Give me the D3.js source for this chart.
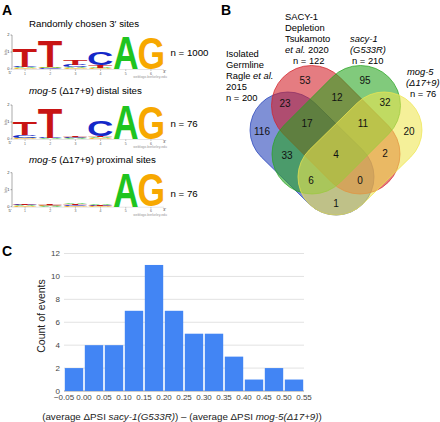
<!DOCTYPE html>
<html>
<head>
<meta charset="utf-8">
<script src="https://cdn.jsdelivr.net/npm/d3@7"></script>
<style>
  body { margin: 0; background: #fff; }
  svg text { font-family: "Liberation Sans", Arial, Helvetica, sans-serif; }
</style>
</head>
<body>
<div id="fig"></div>
<script>
// ---- data ----
// sequence logos: bits per letter, positions 1..6
const logoRandom = [
  { A: 0.05, C: 0.05, G: 0.04, T: 1.05 },
  { A: 0.04, C: 0.03, G: 0.03, T: 1.52 },
  { A: 0.05, C: 0.13, G: 0.04, T: 0.30 },
  { A: 0.04, C: 0.78, G: 0.03, T: 0.18 },
  { A: 1.88, C: 0, G: 0, T: 0 },
  { A: 0, C: 0, G: 1.82, T: 0 }
];
const logoDistal = [
  { A: 0.05, C: 0.15, G: 0.03, T: 0.78 },
  { A: 0.03, C: 0.03, G: 0, T: 1.72 },
  { A: 0.03, C: 0.04, G: 0.03, T: 0.08 },
  { A: 0.06, C: 0.95, G: 0.03, T: 0.08 },
  { A: 1.98, C: 0, G: 0, T: 0 },
  { A: 0, C: 0, G: 1.9, T: 0 }
];
const logoProximal = [
  { A: 0.04, C: 0.05, G: 0.03, T: 0.08 },
  { A: 0.03, C: 0.03, G: 0.03, T: 0.04 },
  { A: 0.10, C: 0.06, G: 0.04, T: 0.08 },
  { A: 0.07, C: 0.04, G: 0.03, T: 0.05 },
  { A: 2.0, C: 0, G: 0, T: 0 },
  { A: 0, C: 0, G: 1.9, T: 0 }
];
const logoTitles = ["Randomly chosen 3\u2032 sites", "distal sites", "proximal sites"];
const logoN = [1000, 76, 76];

// venn: set sizes and region counts
const vennSetN = [200, 122, 210, 76];
const vennCounts = [116, 53, 95, 20, 23, 12, 32, 17, 11, 33, 4, 2, 6, 0, 1];

// histogram
const binEdges = [-0.05, 0.00, 0.05, 0.10, 0.15, 0.20, 0.25, 0.30, 0.35, 0.40, 0.45, 0.50, 0.55];
const binCounts = [2, 4, 4, 7, 11, 7, 5, 5, 3, 1, 2, 1];
const yTicks = [0, 2, 4, 6, 8, 10, 12];

// ---- setup ----
let width = 440, height = 422;
let svg = d3.select("#fig").append("svg")
  .attr("width", width)
  .attr("height", height);

// panel letters
svg.selectAll(".panel")
  .data([["A", 2, 15], ["B", 221, 15], ["C", 2, 256]])
  .enter().append("text")
  .attr("x", d => d[1]).attr("y", d => d[2])
  .style("font-size", "14px").style("font-weight", "bold")
  .text(d => d[0]);

// ---------- A: sequence logos ----------
let letterColor = { A: "#1fc41f", C: "#1428c8", G: "#f7a800", T: "#c81414" };
let ctx = document.createElement("canvas").getContext("2d");
ctx.font = "bold 100px 'Liberation Sans'";
let glyph = {};
["A", "C", "G", "T"].forEach(function(l) {
  let m = ctx.measureText(l);
  glyph[l] = { left: m.actualBoundingBoxLeft, right: m.actualBoundingBoxRight,
               asc: m.actualBoundingBoxAscent, desc: m.actualBoundingBoxDescent };
});

let logoX = d3.scaleBand().domain(d3.range(6)).range([13, 163]).paddingInner(0.04);
let pxPerBit = 17;
let logoBase = [69, 139, 206.7];

function drawLogo(data, base) {
  let g = svg.append("g");
  let y = d3.scaleLinear().domain([0, 2]).range([base, base - 2 * pxPerBit]);
  // axis
  g.append("line").attr("x1", 12).attr("x2", 12).attr("y1", y(0)).attr("y2", y(2))
    .attr("stroke", "#555").attr("stroke-width", 0.5);
  [0, 1, 2].forEach(function(t) {
    g.append("line").attr("x1", 10.5).attr("x2", 12).attr("y1", y(t)).attr("y2", y(t))
      .attr("stroke", "#555").attr("stroke-width", 0.5);
    g.append("text").attr("x", 9.5).attr("y", y(t) + 1.4).attr("text-anchor", "end")
      .style("font-size", "4px").attr("fill", "#333").text(t);
  });
  g.append("text").attr("transform", "translate(6.5," + y(1) + ") rotate(-90)")
    .attr("text-anchor", "middle").style("font-size", "3.5px").attr("fill", "#555").text("bits");
  g.append("line").attr("x1", 12).attr("x2", 164).attr("y1", base + 0.5).attr("y2", base + 0.5)
    .attr("stroke", "#bbb").attr("stroke-width", 0.4);
  data.forEach(function(col, i) {
    let cx = logoX(i) + logoX.bandwidth() / 2;
    g.append("line").attr("x1", cx).attr("x2", cx)
      .attr("y1", base + 0.5).attr("y2", base + 2).attr("stroke", "#666").attr("stroke-width", 0.4);
    g.append("text").attr("x", cx).attr("y", base + 5.5)
      .attr("text-anchor", "middle").style("font-size", "3.5px").attr("fill", "#666").text(i + 1);
    // stack: smallest at bottom
    let letters = Object.keys(col).filter(k => col[k] > 0).sort((a, b) => col[a] - col[b]);
    let acc = 0;
    letters.forEach(function(l) {
      let h = col[l];
      let gm = glyph[l];
      let x0 = logoX(i), w = logoX.bandwidth();
      let yb = y(acc), yt = y(acc + h);
      let sx = w / (gm.left + gm.right), sy = (yb - yt) / (gm.asc + gm.desc);
      g.append("text")
        .attr("transform", "translate(" + x0 + "," + yb + ") scale(" + sx + "," + sy + ") translate(" + gm.left + "," + (-gm.desc) + ")")
        .style("font-size", "100px").style("font-weight", "bold")
        .attr("fill", letterColor[l]).text(l);
      acc += h;
    });
  });
  g.append("text").attr("x", 8.5).attr("y", base + 5).style("font-size", "4px").attr("fill", "#333").text("5\u2032");
  g.append("text").attr("x", 163).attr("y", base + 4).style("font-size", "4px").attr("fill", "#333").text("3\u2032");
  g.append("text").attr("x", 167).attr("y", base + 9).attr("text-anchor", "end")
    .style("font-size", "3.5px").attr("fill", "#999").text("weblogo.berkeley.edu");
}

drawLogo(logoRandom, logoBase[0]);
drawLogo(logoDistal, logoBase[1]);
drawLogo(logoProximal, logoBase[2]);

let titleY = [26.5, 94, 163];
let nY = [56, 126.5, 196.5];
titleY.forEach(function(ty, i) {
  let t = svg.append("text").attr("x", 29).attr("y", ty).style("font-size", "9.7px");
  if (i === 0) {
    t.text(logoTitles[0]);
  } else {
    t.append("tspan").style("font-style", "italic").text("mog-5");
    t.append("tspan").text(" (\u039417+9) " + logoTitles[i]);
  }
  svg.append("text").attr("x", 170.5).attr("y", nY[i]).style("font-size", "9.7px")
    .text("n = " + logoN[i]);
});

// ---------- B: venn ----------
// stadium shapes: cap centres and cap radius
let shapes = [
  { p1: [288, 130],   p2: [336, 177], r: 38, color: "#2340b9" },
  { p1: [311.5, 105.5], p2: [360, 154], r: 40, color: "#d21e26" },
  { p1: [360.5, 105.5], p2: [312, 154], r: 40, color: "#26a31e" },
  { p1: [384, 130],   p2: [336, 177], r: 38, color: "#eee650" }
];
function stadium(p1, p2, r) {
  let dx = p2[0] - p1[0], dy = p2[1] - p1[1];
  let len = Math.sqrt(dx * dx + dy * dy);
  let nx = -dy / len * r, ny = dx / len * r;
  let p = d3.path();
  p.moveTo(p1[0] + nx, p1[1] + ny);
  p.lineTo(p2[0] + nx, p2[1] + ny);
  let a = Math.atan2(ny, nx);
  p.arc(p2[0], p2[1], r, a, a - Math.PI, true);
  p.lineTo(p1[0] - nx, p1[1] - ny);
  p.arc(p1[0], p1[1], r, a - Math.PI, a - 2 * Math.PI, true);
  p.closePath();
  return p.toString();
}
let venn = svg.append("g");
venn.selectAll("path")
  .data(shapes)
  .enter().append("path")
  .attr("d", d => stadium(d.p1, d.p2, d.r))
  .attr("fill", d => d.color)
  .attr("fill-opacity", 0.58)
  .attr("stroke", d => d.color)
  .attr("stroke-opacity", 0.8)
  .attr("stroke-width", 0.9);

let regionPos = [[262, 131], [305, 80], [365, 80], [409, 131], [285, 103], [337, 97], [385, 102],
  [307, 123], [363, 123], [287, 155], [336, 154], [385, 153], [311, 180], [360, 180], [336, 203]];
venn.selectAll(".cnt")
  .data(vennCounts)
  .enter().append("text")
  .attr("x", (d, i) => regionPos[i][0])
  .attr("y", (d, i) => regionPos[i][1] + 3.6)
  .attr("text-anchor", "middle")
  .style("font-size", "10px")
  .attr("fill", "#111")
  .text(d => d);

function labelLines(x, y, lines) {
  let t = svg.append("text").style("font-size", "9.4px");
  lines.forEach(function(ln, i) {
    let first = true;
    ln.parts.forEach(function(p) {
      let ts = t.append("tspan").text(p[0]);
      if (p[1]) ts.style("font-style", "italic");
      if (first) { ts.attr("x", x + (ln.dx || 0)).attr("y", y + i * 11); first = false; }
    });
  });
}
labelLines(285, 19.5, [
  { parts: [["SACY-1"]] }, { parts: [["Depletion"]] }, { parts: [["Tsukamoto"]] },
  { parts: [["et al.", 1], [" 2020"]] }, { parts: [["n = " + vennSetN[1]]], dx: 8 }
]);
labelLines(350, 41.5, [
  { parts: [["sacy-1", 1]] }, { parts: [["(G533R)", 1]] }, { parts: [["n = " + vennSetN[2]]], dx: 2 }
]);
labelLines(226, 56.5, [
  { parts: [["Isolated"]] }, { parts: [["Germline"]] }, { parts: [["Ragle "], ["et al.", 1]] },
  { parts: [["2015"]] }, { parts: [["n = " + vennSetN[0]]] }
]);
labelLines(407, 74.5, [
  { parts: [["mog-5", 1]] }, { parts: [["(\u039417+9)", 1]], dx: -1 }, { parts: [["n = " + vennSetN[3]]], dx: 3 }
]);

// ---------- C: histogram ----------
let x = d3.scaleLinear().domain([-0.05, 0.55]).range([64, 304]);
let y = d3.scaleLinear().domain([0, 12]).range([391, 253.5]);
let hist = svg.append("g");

hist.selectAll(".grid")
  .data(yTicks)
  .enter().append("line")
  .attr("x1", 64).attr("x2", 304)
  .attr("y1", d => y(d)).attr("y2", d => y(d))
  .attr("stroke", d => d === 0 ? "#999" : "#e2e2e2")
  .attr("stroke-width", 1);

hist.selectAll(".bar")
  .data(binCounts)
  .enter().append("rect")
  .attr("x", (d, i) => x(binEdges[i]) + 0.8)
  .attr("width", (d, i) => x(binEdges[i + 1]) - x(binEdges[i]) - 1.6)
  .attr("y", d => y(d))
  .attr("height", d => y(0) - y(d))
  .attr("fill", "#4285f4");

hist.selectAll(".ylab")
  .data(yTicks)
  .enter().append("text")
  .attr("x", 60).attr("y", d => y(d) + 2.8)
  .attr("text-anchor", "end")
  .style("font-size", "8px").attr("fill", "#444")
  .text(d => d);

hist.selectAll(".xlab")
  .data(binEdges)
  .enter().append("text")
  .attr("x", d => x(d)).attr("y", 400)
  .attr("text-anchor", "middle")
  .style("font-size", "8px").attr("fill", "#444")
  .text(d => d3.format(".2f")(d));

hist.append("text")
  .attr("transform", "translate(44.5,316) rotate(-90)")
  .attr("text-anchor", "middle")
  .style("font-size", "10.5px").attr("fill", "#222")
  .text("Count of events");

let xt = hist.append("text").attr("x", 182).attr("y", 419.5).attr("text-anchor", "middle")
  .style("font-size", "9.8px").attr("fill", "#222");
xt.append("tspan").text("(average \u0394PSI ");
xt.append("tspan").style("font-style", "italic").text("sacy-1(G533R)");
xt.append("tspan").text(") \u2013 (average \u0394PSI ");
xt.append("tspan").style("font-style", "italic").text("mog-5(\u039417+9)");
xt.append("tspan").text(")");
</script>
</body>
</html>
